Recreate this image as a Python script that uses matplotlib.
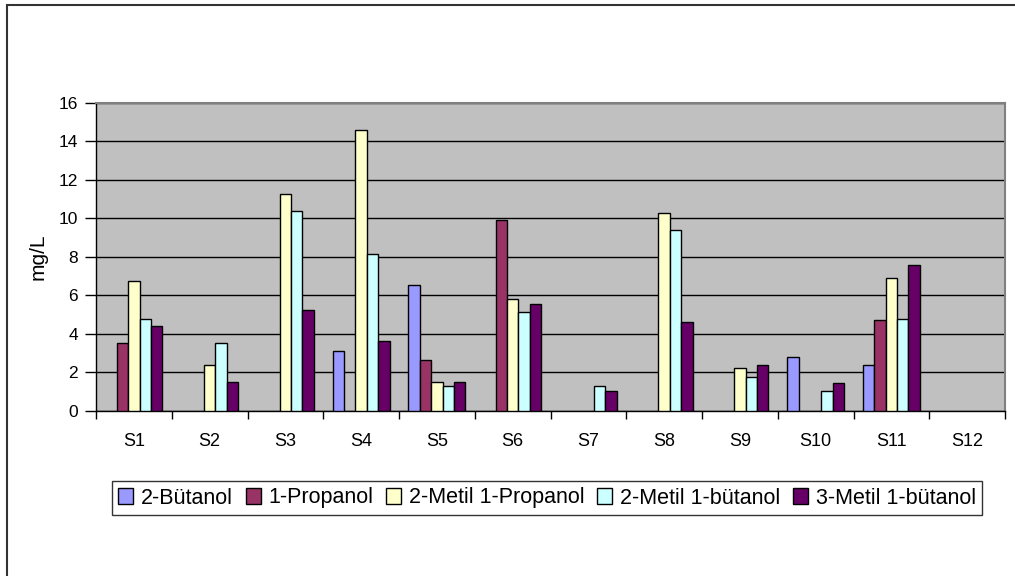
import numpy as np
import matplotlib
matplotlib.use('Agg')
from matplotlib import pyplot as plt
from matplotlib.patches import Rectangle

plt.rcParams['font.family'] = ['Liberation Sans', 'DejaVu Sans']

# 数据
samples = ['S1', 'S2', 'S3', 'S4', 'S5', 'S6', 'S7', 'S8', 'S9', 'S10', 'S11', 'S12']
series_names = ['2-Bütanol', '1-Propanol', '2-Metil 1-Propanol', '2-Metil 1-bütanol', '3-Metil 1-bütanol']
butanol_2 = [0, 0, 0, 3.12, 6.56, 0, 0, 0, 0, 2.8, 2.36, 0]
propanol_1 = [3.54, 0, 0, 0, 2.62, 9.94, 0, 0, 0, 0, 4.74, 0]
metil_propanol = [6.73, 2.36, 11.28, 14.58, 1.49, 5.81, 0, 10.26, 2.2, 0, 6.89, 0]
metil_2_butanol = [4.79, 3.54, 10.36, 8.17, 1.27, 5.15, 1.27, 9.42, 1.77, 1.01, 4.79, 0]
metil_3_butanol = [4.39, 1.51, 5.22, 3.63, 1.51, 5.55, 1.03, 4.63, 2.36, 1.43, 7.6, 0]
y_ticks = [0, 2, 4, 6, 8, 10, 12, 14, 16]

colors = ['#9999FF', '#993366', '#FFFFCC', '#CCFFFF', '#660066']

W, H = 1015, 576
fig = plt.figure(figsize=(W / 100, H / 100), dpi=100)
ax = fig.add_axes([96 / W, 1 - 410.7 / H, (1005 - 96) / W, (410.7 - 103) / H])
ax.set_facecolor('#C0C0C0')

# 外框
fig.patches.append(Rectangle((7 / W, -0.1), 1.2, 1 - 5 / H + 0.1, transform=fig.transFigure,
							 fill=False, edgecolor='#333333', linewidth=1.5))

data = [butanol_2, propanol_1, metil_propanol, metil_2_butanol, metil_3_butanol]
x = np.arange(len(samples))
bw = 0.15
for i, vals in enumerate(data):
	vals = np.array(vals, dtype=float)
	mask = vals > 0
	ax.bar(x[mask] + (i - 2) * bw, vals[mask], width=bw, color=colors[i],
		   edgecolor='black', linewidth=1, label=series_names[i], zorder=3)

ax.set_xlim(-0.5, len(samples) - 0.5)
ax.set_ylim(0, 16)
ax.set_yticks(y_ticks)
ax.yaxis.grid(True, color='black', linewidth=1, zorder=1)
ax.set_axisbelow(True)

ax.set_xticks(x)
ax.set_xticklabels(samples)
ax.set_xticks(np.arange(-0.5, len(samples)), minor=True)
ax.tick_params(axis='x', which='major', length=0, pad=16, labelsize=13)
ax.tick_params(axis='x', which='minor', length=6, width=1, direction='out')
ax.tick_params(axis='y', length=8, width=1, direction='out', pad=5, labelsize=12.5)

for s in ['top', 'right']:
	ax.spines[s].set_color('#808080')
	ax.spines[s].set_linewidth(1.5)
for s in ['left', 'bottom']:
	ax.spines[s].set_color('black')
	ax.spines[s].set_linewidth(1)

fig.text(38 / W, 1 - 257 / H, 'mg/L', rotation=90, ha='center', va='center', fontsize=15)

leg = ax.legend(loc='center', bbox_to_anchor=(547 / W, 1 - 498 / H), bbox_transform=fig.transFigure,
				ncol=5, fontsize=15.5, frameon=True, fancybox=False, shadow=False,
				handlelength=0.7, handleheight=0.7, handletextpad=0.35, columnspacing=0.6,
				borderpad=0.3, borderaxespad=0)
leg.get_frame().set_edgecolor('black')
leg.get_frame().set_linewidth(1)

fig.savefig('out.png', dpi=100)
